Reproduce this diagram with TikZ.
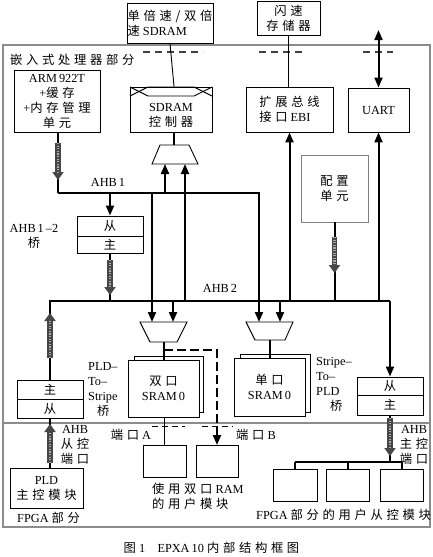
\documentclass[tikz,border=0pt]{standalone}
\usepackage{fontspec}
\setmainfont{Liberation Serif}
\newfontfamily\cjk[LetterSpace=30]{Noto Sans CJK SC}
\usetikzlibrary{arrows.meta,calc}
\begin{document}
\begin{tikzpicture}[x=1pt,y=-1pt,
  every node/.style={font=\fontsize{12.3}{15}\selectfont, inner sep=0pt},
  box/.style={draw, line width=0.9pt, align=center, fill=white},
  thin/.style={line width=0.9pt},
  bus/.style={line width=2pt},
  arr/.style={bus, -{Triangle[length=10pt 0,width=8pt 0]}},
  frame/.style={draw=black!45, line width=1.3pt},
  dsh/.style={line width=1.6pt, dash pattern=on 7pt off 5pt, black!75},
  bigdash/.style={line width=2pt, dash pattern=on 9pt off 4pt, -{Triangle[length=10pt 0,width=8pt 0]}},
  smalldash/.style={line width=1pt, dash pattern=on 6pt off 4pt},
  tex/.style={line width=5.5pt, draw=black!72, -{Triangle[length=8pt 0,width=11pt 0]},
    postaction={draw=white, line width=2.5pt, -, dash pattern=on 1.2pt off 1.4pt, shorten >=8pt, opacity=0.55}},
  muxs/.style={draw, line width=0.9pt, fill=white}
]
\useasboundingbox (0,0) rectangle (433,557);

% ---------- frames ----------
\draw[frame] (3,45) rectangle (430,527);
\draw[frame] (3,423) -- (430,423);

% ---------- coordinates ----------
\coordinate (a1L) at (58,193);
\coordinate (a1R) at (259,193);
\coordinate (a2L) at (50,301);
\coordinate (a2R) at (390,301);
\coordinate (sdmuxOut) at (174,145);
\coordinate (sdmuxIn1) at (165,164);
\coordinate (sdmuxIn2) at (185,164);
\coordinate (dmuxIn1) at (152,322);
\coordinate (dmuxIn2) at (173,322);
\coordinate (dmuxOut) at (164,342);
\coordinate (smuxIn1) at (259,322);
\coordinate (smuxIn2) at (280,322);
\coordinate (smuxOut) at (270,340);
\coordinate (dtap) at (164,350);
\coordinate (dcorner) at (217,350);
\coordinate (uartTop) at (378.5,30);
\coordinate (fbus) at (390,462);

% ---------- outside boxes ----------
\node[box, minimum width=86, minimum height=40, align=left] (sdram) at (170,23) {{\cjk 单倍速/双倍}\\{\cjk 速} SDRAM};
\node[box, minimum width=63, minimum height=34] (flash) at (288.5,18) {{\cjk 闪速}\\{\cjk 存储器}};

% dashed marks at boundary
\draw[dsh] (143,52) -- (203,52);
\draw[dsh] (259,52) -- (305,52);
\draw[dsh] (363,52) -- (393,52);

\node[anchor=west] (embl) at (10,60) {{\cjk 嵌入式处理器部分}};

% ---------- processor part ----------
\node[box, minimum width=86, minimum height=62] (arm) at (57,101) {ARM\,922T\\+{\cjk 缓存}\\+{\cjk 内存管理}\\{\cjk 单元}};
\node[box, minimum width=82, minimum height=45] (sdramc) at (171,109.5) {};
\draw[thin] (130,87) -- (148,96) -- (194,96) -- (212,87);
\draw[thin] (130,96) -- (148,87) -- (194,87) -- (212,96);
\node[align=center] (sdramct) at (171,115) {SDRAM\\{\cjk 控制器}};
\node[box, minimum width=87, minimum height=45, align=left] (ebi) at (289.5,109.5) {{\cjk 扩展总线}\\{\cjk 接口} EBI};
\node[box, minimum width=61, minimum height=44] (uart) at (378.5,110) {UART};
\node[box, draw=black!50, minimum width=67, minimum height=67] (cfg) at (334.5,188.5) {{\cjk 配置}\\{\cjk 单元}};

% bridges
\node[box, minimum width=66, minimum height=20] (b12s) at (110,226) {{\cjk 从}};
\node[box, minimum width=66, minimum height=17] (b12m) at (110,244.5) {{\cjk 主}};
\node[box, minimum width=66, minimum height=19] (p2sm) at (50,389.5) {{\cjk 主}};
\node[box, minimum width=66, minimum height=19] (p2ss) at (50,408.5) {{\cjk 从}};
\node[box, minimum width=66, minimum height=18] (s2ps) at (390,386) {{\cjk 从}};
\node[box, minimum width=66, minimum height=20] (s2pm) at (390,405) {{\cjk 主}};

% SRAMs
\node[box, minimum width=69, minimum height=56] (dsramB) at (168.5,384) {};
\node[box, minimum width=71, minimum height=57] (dsram) at (163.5,388.5) {{\cjk 双口}\\SRAM\,0};
\node[box, minimum width=70, minimum height=58] (ssramB) at (275,383) {};
\node[box, minimum width=71, minimum height=58] (ssram) at (269.5,387) {{\cjk 单口}\\SRAM\,0};

% muxes
\draw[muxs] (160,145) -- (189,145) -- (198,164) -- (152,164) -- cycle;
\draw[muxs] (140,322) -- (187,322) -- (177,342) -- (150,342) -- cycle;
\draw[muxs] (246,322) -- (293,322) -- (285,340) -- (255,340) -- cycle;

% labels
\node (lahb1) at (108,182) {AHB\,1};
\node[align=center] (lb12) at (34,236) {AHB\,1\,–2\\{\cjk 桥}};
\node (lahb2) at (220,288) {AHB\,2};
\node[align=left, anchor=north west] (lp2s) at (88,362) {PLD–\\To–\\Stripe\\\hspace{9pt}{\cjk 桥}};
\node[align=left, anchor=north west] (ls2p) at (316,357) {Stripe–\\To–\\PLD\\\hspace{14pt}{\cjk 桥}};

% ---------- connectors ----------
\draw[thin] (sdram.south) -- ([xshift=3pt]sdramc.north);
\draw[thin] (flash.south) -- (flash.south |- ebi.north);
\draw[bus, {Triangle[length=10pt 0,width=8pt 0]}-{Triangle[length=10pt 0,width=8pt 0]}] (uartTop) -- (uart.north);

\draw[bus] (sdmuxOut |- sdramc.south) -- (sdmuxOut);

% AHB1
\draw[bus] (arm.south -| a1L) -- (a1L);
\draw[arr] (a1L) -- (a1R) -- (smuxIn1);
\draw[arr] (b12s.north |- a1L) -- (b12s.north);
\draw[arr] (sdmuxIn1 |- a1L) -- (sdmuxIn1);
\draw[arr] (dmuxIn1 |- a1L) -- (dmuxIn1);
\coordinate (t1a) at (58,143); \coordinate (t1b) at (58,180);
\draw[tex] (t1a) -- (t1b);

% AHB2
\draw[bus] (p2sm.north -| a2L) -- (a2L) -- (a2R);
\draw[arr] (a2R) -- (s2ps.north);
\draw[arr] (sdmuxIn2 |- a2L) -- (sdmuxIn2);
\draw[arr] (dmuxIn2 |- a2L) -- (dmuxIn2);
\draw[arr] (smuxIn2 |- a2L) -- (smuxIn2);
\draw[arr] (ebi.south |- a2L) -- (ebi.south);
\draw[arr] (uart.south |- a2L) -- (uart.south);
\draw[bus] (b12m.south) -- (b12m.south |- a2L);
\coordinate (t2a) at (110,260); \coordinate (t2b) at (110,295);
\draw[tex] (t2a) -- (t2b);
\draw[bus] (cfg.south) -- (cfg.south |- a2L);
\coordinate (t3a) at (334.5,237); \coordinate (t3b) at (334.5,273);
\draw[tex] (t3a) -- (t3b);
\coordinate (t4a) at (50,358); \coordinate (t4b) at (50,313);
\draw[tex] (t4a) -- (t4b);

% SRAM links
\draw[bus] (dmuxOut) -- (dmuxOut |- dsram.north);
\draw[bigdash] (dtap) -- (dcorner) -- (dcorner |- 0,445);
\draw[bus] (smuxOut) -- (smuxOut |- ssram.north);

% ---------- FPGA part ----------
\node[box, minimum width=43, minimum height=32] (user1) at (164.5,461) {};
\node[box, minimum width=42, minimum height=32] (user2) at (217,461) {};
\draw[thin] (dsram.south -| user1) -- (user1.north);

\draw[smalldash] (152,426) -- (185,426);
\draw[smalldash] (202,426) -- (233,426);
\node (lpa) at (131,435) {{\cjk 端口} A};
\node (lpb) at (256,435) {{\cjk 端口} B};

\node[box, minimum width=73, minimum height=40] (pldm) at (46.5,488) {PLD\\{\cjk 主控模块}};
\draw[bus] (pldm.north -| p2ss) -- (p2ss.south);
\coordinate (t5a) at (50,463); \coordinate (t5b) at (50,424);
\draw[tex] (t5a) -- (t5b);
\node[align=center] (lslv) at (75,445) {AHB\\{\cjk 从控}\\{\cjk 端口}};

\node[box, minimum width=44, minimum height=32] (fb1) at (295,485) {};
\node[box, minimum width=43, minimum height=32] (fb2) at (347.5,485) {};
\node[box, minimum width=43, minimum height=32] (fb3) at (401.5,485) {};
\draw[bus] (s2pm.south) -- (fbus);
\coordinate (t6a) at (390,418); \coordinate (t6b) at (390,456);
\draw[tex] (t6a) -- (t6b);
\draw[bus] (fb1.north |- fbus) -- (fb3.north |- fbus);
\draw[bus] (fb1.north |- fbus) -- (fb1.north);
\draw[bus] (fb2.north |- fbus) -- (fb2.north);
\draw[bus] (fb3.north |- fbus) -- (fb3.north);
\node[align=center] (lmst) at (414,445) {AHB\\{\cjk 主控}\\{\cjk 端口}};

\node[anchor=west] (lfpga) at (17,518) {FPGA {\cjk 部分}};
\node[align=left, anchor=north west] (luser) at (152,483) {{\cjk 使用双口} RAM\\{\cjk 的用户模块}};
\node[anchor=west] (lfpgau) at (256,515) {FPGA {\cjk 部分的用户从控模块}};

\node (cap) at (211.5,548) {{\cjk 图} 1\quad EPXA\,10 {\cjk 内部结构框图}};
\end{tikzpicture}
\end{document}
